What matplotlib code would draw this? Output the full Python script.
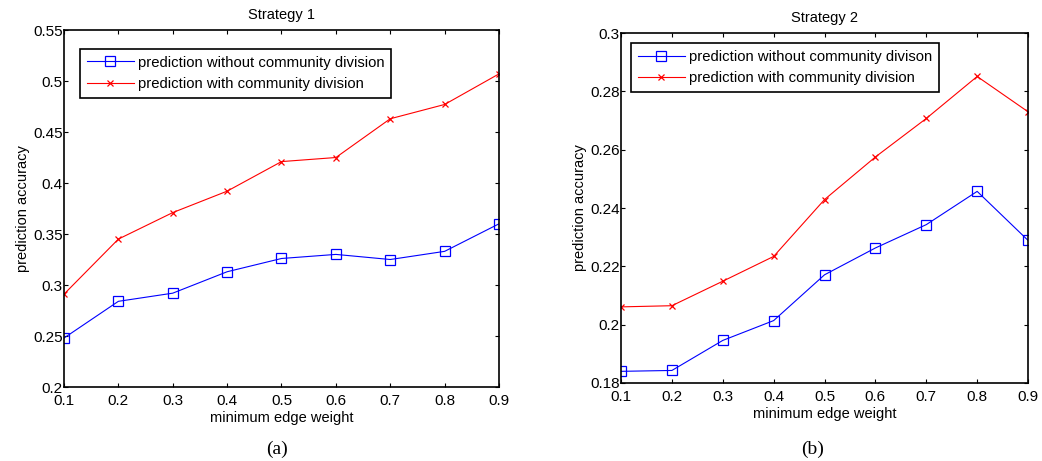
import numpy as np
import matplotlib
matplotlib.use('Agg')
from matplotlib import pyplot as plt

plt.rcParams['font.family'] = ['Liberation Sans', 'DejaVu Sans']

# minimum edge weight
w = [0.1, 0.2, 0.3, 0.4, 0.5, 0.6, 0.7, 0.8, 0.9]

# strategy 1
s1_without = [0.248, 0.284, 0.292, 0.313, 0.326, 0.330, 0.325, 0.333, 0.360]
s1_with = [0.291, 0.345, 0.371, 0.392, 0.421, 0.425, 0.463, 0.477, 0.507]

# strategy 2
s2_without = [0.1840, 0.1843, 0.1946, 0.2014, 0.2171, 0.2263, 0.2343, 0.2457, 0.2289]
s2_with = [0.2061, 0.2065, 0.2149, 0.2234, 0.2429, 0.2575, 0.2707, 0.2851, 0.2730]

xticks = [0.1, 0.2, 0.3, 0.4, 0.5, 0.6, 0.7, 0.8, 0.9]
yticks1 = [0.2, 0.25, 0.3, 0.35, 0.4, 0.45, 0.5, 0.55]
ylab1 = ['0.2', '0.25', '0.3', '0.35', '0.4', '0.45', '0.5', '0.55']
yticks2 = [0.18, 0.2, 0.22, 0.24, 0.26, 0.28, 0.3]
ylab2 = ['0.18', '0.2', '0.22', '0.24', '0.26', '0.28', '0.3']

fig = plt.figure(figsize=(10.42, 4.61), dpi=100)
ax1 = fig.add_axes([0.0614, 0.1605, 0.4175, 0.7744])
ax2 = fig.add_axes([0.596, 0.1692, 0.3906, 0.7592])

def style(ax, title, yt, yl, leg1, leg_anchor):
    ax.set_xlim(0.1, 0.9)
    ax.set_ylim(yt[0], yt[-1])
    ax.set_xticks(xticks)
    ax.set_xticklabels([str(t) for t in xticks])
    ax.set_yticks(yt)
    ax.set_yticklabels(yl)
    ax.tick_params(axis='both', direction='in', top=True, right=True, labelsize=11, length=3, width=0.8)
    ax.tick_params(axis='x', pad=5)
    ax.tick_params(axis='y', pad=1)
    for s in ax.spines.values():
        s.set_linewidth(1.2)
    ax.set_title(title, fontsize=10.5, pad=8)
    ax.set_xlabel('minimum edge weight', fontsize=10.5, labelpad=2)
    ax.set_ylabel('prediction accuracy', fontsize=10.5, labelpad=2)
    leg = ax.legend([leg1, 'prediction with community division'], loc='upper left',
                    bbox_to_anchor=leg_anchor, borderaxespad=0, fontsize=10.7, fancybox=False,
                    edgecolor='black', framealpha=1, numpoints=1, handlelength=3.15,
                    borderpad=0.45, labelspacing=0.5, handletextpad=0.3)
    leg.get_frame().set_linewidth(1.2)

ax1.plot(w, s1_without, color='blue', lw=0.8, marker='s', ms=7, mfc='none', mew=0.9)
ax1.plot(w, s1_with, color='red', lw=0.8, marker='x', ms=4, mew=0.9)
style(ax1, 'Strategy 1', yticks1, ylab1, 'prediction without community division', (0.037, 0.947))

ax2.plot(w, s2_without, color='blue', lw=0.8, marker='s', ms=7, mfc='none', mew=0.9)
ax2.plot(w, s2_with, color='red', lw=0.8, marker='x', ms=4, mew=0.9)
style(ax2, 'Strategy 2', yticks2, ylab2, 'prediction without community divison', (0.025, 0.971))

fig.text(0.266, 0.015, '(a)', fontsize=14, family='Liberation Serif', ha='center')
fig.text(0.780, 0.015, '(b)', fontsize=14, family='Liberation Serif', ha='center')

fig.savefig('out.png', dpi=100)
